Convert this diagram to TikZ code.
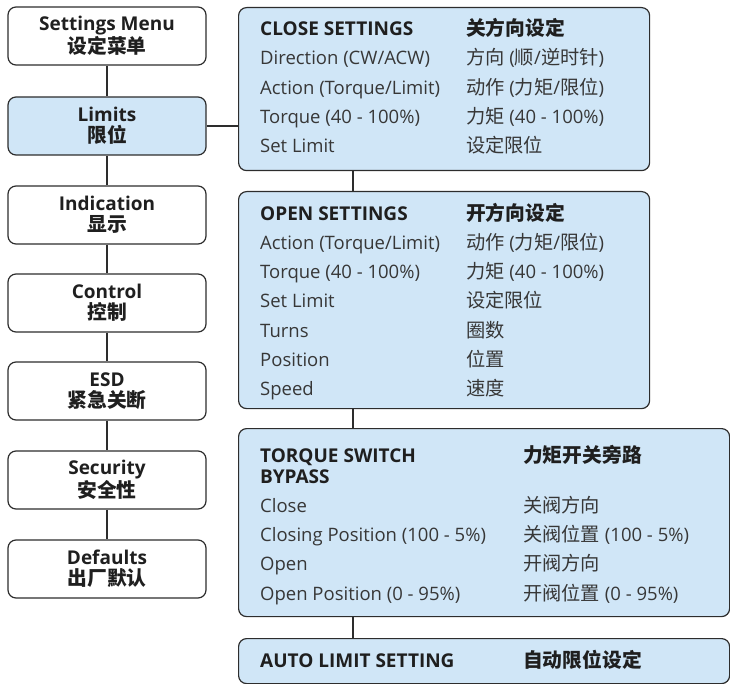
\documentclass[tikz,border=0pt]{standalone}
\usepackage{fontspec}
\setmainfont{Open Sans}
\newfontfamily\zhfont{Noto Sans CJK SC}[Scale=1.04]
\newcommand{\zh}[1]{{\zhfont #1}}
\definecolor{boxblue}{RGB}{208,230,247}
\definecolor{edgegray}{RGB}{45,45,45}
\definecolor{txtgray}{RGB}{55,55,55}

\tikzset{
  box/.style={draw=edgegray, line width=1.2pt, rounded corners=8pt, inner sep=0pt},
  menubox/.style={box, minimum width=198pt, minimum height=58pt, align=center,
    font=\fontsize{19}{21}\selectfont\bfseries, text=black!88},
  panel/.style={box, fill=boxblue, anchor=north west},
  entry/.style={anchor=base west, inner sep=0pt, text=txtgray,
    font=\fontsize{18.5}{21}\selectfont},
  head/.style={entry, align=left, text=black!88,
    font=\fontsize{19}{21}\selectfont\bfseries},
  link/.style={draw=edgegray, line width=1.2pt}
}

\begin{document}
\begin{tikzpicture}[x=1pt, y=-1pt]
  \useasboundingbox (0,0) rectangle (730,684);

  % menu column
  \node[menubox]                (menu)  at (107,36)  {Settings Menu\\\zh{设定菜单}};
  \node[menubox, fill=boxblue]  (lim)   at (107,126) {Limits\\\zh{限位}};
  \node[menubox]                (ind)   at (107,215) {Indication\\\zh{显示}};
  \node[menubox]                (ctl)   at (107,303) {Control\\\zh{控制}};
  \node[menubox]                (esd)   at (107,391) {ESD\\\zh{紧急关断}};
  \node[menubox]                (sec)   at (107,480) {Security\\\zh{安全性}};
  \node[menubox]                (dft)   at (107,569) {Defaults\\\zh{出厂默认}};

  \path[link] (menu) -- (lim) -- (ind) -- (ctl) -- (esd) -- (sec) -- (dft);

  % limit panels
  \node[panel, minimum width=411pt, minimum height=163pt] (close) at (238,7)   {};
  \node[panel, minimum width=411pt, minimum height=217pt] (open)  at (238,191) {};
  \node[panel, minimum width=491pt, minimum height=188pt] (tsb)   at (238,428) {};
  \node[panel, minimum width=491pt, minimum height=45pt]  (auto)  at (238,638) {};

  \path[link] (lim.east) -- (close.west |- lim.east);
  \path[link] ([xshift=115pt]close.south west) -- ([xshift=115pt]open.north west);
  \path[link] ([xshift=115pt]open.south west)  -- ([xshift=115pt]tsb.north west);
  \path[link] ([xshift=115pt]tsb.south west)   -- ([xshift=115pt]auto.north west);

  % close settings
  \node[head]  (c0) at (260,36)  {CLOSE SETTINGS};
  \node[head]  (z0) at (466,36)  {\zh{关方向设定}};
  \node[entry] (c1) at (260,65)  {Direction (CW/ACW)};
  \node[entry] (z1) at (466,65)  {\zh{方向} (\zh{顺}/\zh{逆时针})};
  \node[entry] (c2) at (260,95)  {Action (Torque/Limit)};
  \node[entry] (z2) at (466,95)  {\zh{动作} (\zh{力矩}/\zh{限位})};
  \node[entry] (c3) at (260,124) {Torque (40 - 100\%)};
  \node[entry] (z3) at (466,124) {\zh{力矩} (40 - 100\%)};
  \node[entry] (c4) at (260,153) {Set Limit};
  \node[entry] (z4) at (466,153) {\zh{设定限位}};

  % open settings
  \node[head]  (o0) at (260,221) {OPEN SETTINGS};
  \node[head]  (y0) at (466,221) {\zh{开方向设定}};
  \node[entry] (o1) at (260,250) {Action (Torque/Limit)};
  \node[entry] (y1) at (466,250) {\zh{动作} (\zh{力矩}/\zh{限位})};
  \node[entry] (o2) at (260,279) {Torque (40 - 100\%)};
  \node[entry] (y2) at (466,279) {\zh{力矩} (40 - 100\%)};
  \node[entry] (o3) at (260,308) {Set Limit};
  \node[entry] (y3) at (466,308) {\zh{设定限位}};
  \node[entry] (o4) at (260,337) {Turns};
  \node[entry] (y4) at (466,337) {\zh{圈数}};
  \node[entry] (o5) at (260,366) {Position};
  \node[entry] (y5) at (466,366) {\zh{位置}};
  \node[entry] (o6) at (260,395) {Speed};
  \node[entry] (y6) at (466,395) {\zh{速度}};

  % torque switch bypass
  \node[head]  (t0) at (260,483) {TORQUE SWITCH\\BYPASS};
  \node[head]  (x0) at (523,462) {\zh{力矩开关旁路}};
  \node[entry] (t1) at (260,512) {Close};
  \node[entry] (x1) at (523,512) {\zh{关阀方向}};
  \node[entry] (t2) at (260,541) {Closing Position (100 - 5\%)};
  \node[entry] (x2) at (523,541) {\zh{关阀位置} (100 - 5\%)};
  \node[entry] (t3) at (260,570) {Open};
  \node[entry] (x3) at (523,570) {\zh{开阀方向}};
  \node[entry] (t4) at (260,600) {Open Position (0 - 95\%)};
  \node[entry] (x4) at (523,600) {\zh{开阀位置} (0 - 95\%)};

  % auto limit
  \node[head]  (a0) at (260,667) {AUTO LIMIT SETTING};
  \node[head]  (w0) at (523,667) {\zh{自动限位设定}};

\end{tikzpicture}
\end{document}
